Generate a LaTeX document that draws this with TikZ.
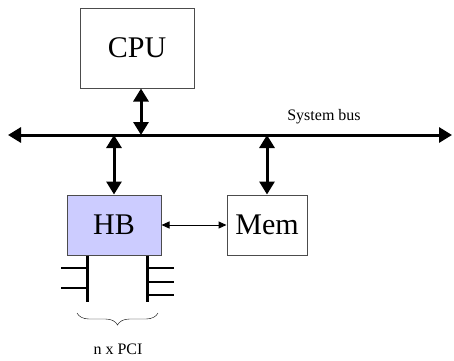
\documentclass[tikz,border=0pt]{standalone}
\usepackage{fontspec}
\setmainfont{Liberation Serif}
\usetikzlibrary{arrows.meta,decorations.pathreplacing}
\definecolor{hbfill}{RGB}{204,204,255}

\begin{document}
\begin{tikzpicture}[x=1pt, y=-1pt,
    unit/.style={draw=black!70, line width=1pt, inner sep=0pt, font=\fontsize{30}{30}\selectfont},
    bigarrow/.style={line width=3pt, {Triangle[width=15pt,length=13pt]}-{Triangle[width=15pt,length=13pt]}},
    smallarrow/.style={line width=1pt, {Triangle[width=7pt,length=8pt]}-{Triangle[width=7pt,length=8pt]}},
    slot/.style={line width=3pt},
    slottick/.style={line width=2pt}]
    \useasboundingbox (0,0) rectangle (454,360);

    % Parameters
    \def\busy{135}

    % Units
    \node[unit, minimum width=114pt, minimum height=80pt] (cpu) at (137,48) {CPU};
    \node[unit, fill=hbfill, minimum width=94pt, minimum height=60pt] (hb) at (114,225) {HB};
    \node[unit, minimum width=80pt, minimum height=60pt] (mem) at (267,225) {Mem};

    % System bus
    \coordinate (busL) at (8,\busy);
    \coordinate (busR) at (452,\busy);
    \draw[bigarrow] (busL) -- (busR);
    \node[font=\fontsize{16}{16}\selectfont] (buslabel) at (324,117) {System bus};

    % Bus connections
    \draw[bigarrow] ([xshift=4pt]cpu.south) -- ([xshift=4pt]cpu.south |- busL);
    \draw[bigarrow] (hb.north |- busL) -- (hb.north);
    \draw[bigarrow] (mem.north |- busL) -- (mem.north);
    \draw[smallarrow] (hb.east) -- (mem.west);

    % PCI slots
    \coordinate (slotL) at (87,302);
    \coordinate (slotR) at (147,302);
    \draw[slot] (slotL |- hb.south) -- (slotL);
    \draw[slot] (slotR |- hb.south) -- (slotR);
    \foreach \y in {268,288} {
        \draw[slottick] (61,\y) -- (slotL |- 0,\y);
    }
    \foreach \y in {268,282,295} {
        \draw[slottick] (slotR |- 0,\y) -- (174,\y);
    }

    % Brace
    \draw[decorate, decoration={brace, mirror, amplitude=12pt}] (77,313) -- (158,313);
    \node[font=\fontsize{16}{16}\selectfont] (pci) at (118,349) {n x PCI};
\end{tikzpicture}
\end{document}
